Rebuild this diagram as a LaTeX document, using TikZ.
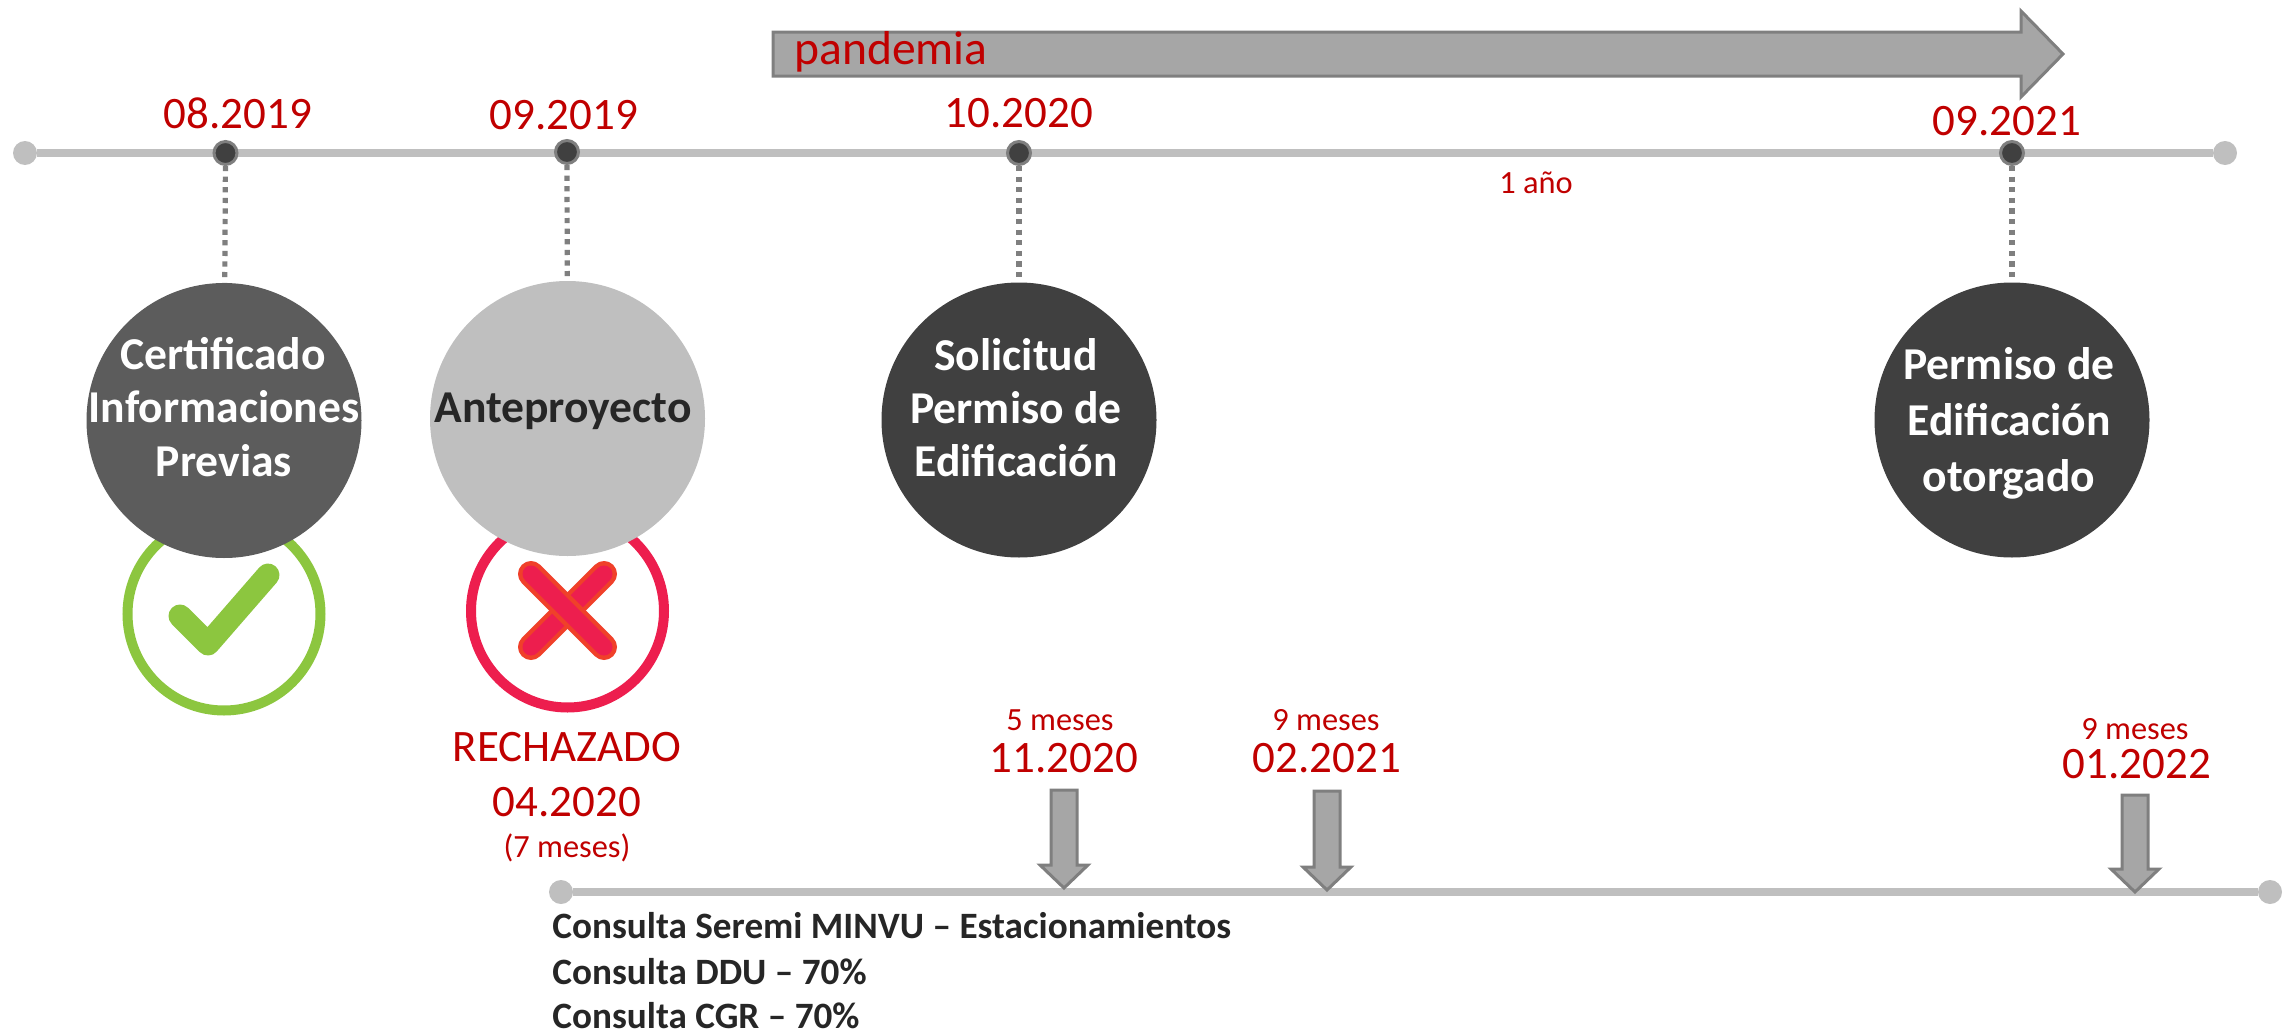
\documentclass[tikz,border=0pt]{standalone}
\usepackage{fontspec}
\setmainfont{Carlito}
\definecolor{linegray}{HTML}{BFBFBF}
\definecolor{arrowfill}{HTML}{A6A6A6}
\definecolor{arrowedge}{HTML}{7F7F7F}
\definecolor{dotfill}{HTML}{404040}
\definecolor{datered}{HTML}{C00000}
\definecolor{midgray}{HTML}{5C5C5C}
\definecolor{inkdark}{HTML}{262626}
\definecolor{okgreen}{HTML}{8CC63F}
\definecolor{noring}{HTML}{ED1E4E}
\definecolor{noorange}{HTML}{F0402A}
\newcommand{\downarrowshape}[3]{% x, top, tip
  \draw[arrowstyle] (#1-13,#2) -- (#1+13,#2) -- (#1+13,#3-25) -- (#1+24,#3-25) -- (#1,#3-2) -- (#1-24,#3-25) -- (#1-13,#3-25) -- cycle;}
\tikzset{
  x=0.5pt,y=-0.5pt,
  timeline/.style={draw=linegray,line width=4pt},
  enddot/.style={circle,fill=linegray,inner sep=0pt,minimum size=12pt},
  eventdot/.style={circle,fill=dotfill,draw=arrowedge,line width=1.5pt,inner sep=0pt,minimum size=11.5pt},
  leader/.style={draw=arrowedge,line width=2.6pt,dash pattern=on 2.6pt off 2.7pt},
  bigcircle/.style={circle,inner sep=0pt,minimum size=137.5pt},
  arrowstyle/.style={fill=arrowfill,draw=arrowedge,line width=1.5pt,line join=miter},
  date/.style={anchor=base,inner sep=0pt,text=datered,font=\fontsize{22.5pt}{27pt}\selectfont},
  note/.style={anchor=base,inner sep=0pt,text=datered,font=\fontsize{16.2pt}{19pt}\selectfont},
  stage/.style={anchor=base,inner sep=0pt,font=\fontsize{22.8pt}{27pt}\selectfont\bfseries},
  query/.style={anchor=base west,inner sep=0pt,text=inkdark,font=\fontsize{18.6pt}{22pt}\selectfont\bfseries},
  ring/.style={circle,inner sep=0pt,line width=5pt,minimum size=96.5pt,fill=white},
}
\begin{document}
\begin{tikzpicture}
\useasboundingbox (0,0) rectangle (2293,1033);
% pandemia arrow
\draw[arrowstyle] (773,32) -- (2021,32) -- (2021,11) -- (2063,54) -- (2021,97) -- (2021,76) -- (773,76) -- cycle;
\node[date,anchor=base west,font=\fontsize{23.8pt}{27pt}\selectfont] (pandemia) at (794,64) {pandemia};
% main timeline
\node[enddot] (startA) at (25,153) {};
\node[enddot] (endA) at (2225,153) {};
\draw[timeline] (startA) -- (endA);
\node[eventdot] (d1) at (225.5,153) {};
\node[eventdot] (d2) at (567,152) {};
\node[eventdot] (d3) at (1019,153) {};
\node[eventdot] (d4) at (2012,153) {};
% status icons (below the circles)
\node[ring,draw=okgreen] (okring) at (224,614) {};
\draw[okgreen,line width=11.5pt,line cap=round,line join=round] (180,616) -- (208,644) -- (268,575);
\node[ring,draw=noring] (noringnode) at (567.5,611) {};
\draw[noorange,line width=13pt,line cap=round] (604,574) -- (531,647);
\draw[noring,line width=8.5pt,line cap=round] (604,574) -- (531,647);
\draw[noorange,line width=13pt,line cap=round] (531,574) -- (604,647);
\draw[noring,line width=8.5pt,line cap=round] (531,574) -- (604,647);
% big circles
\node[bigcircle,fill=midgray] (c1) at (224,420.5) {};
\node[bigcircle,fill=linegray] (c2) at (567.5,418.5) {};
\node[bigcircle,fill=dotfill] (c3) at (1019,420) {};
\node[bigcircle,fill=dotfill] (c4) at (2012,420) {};
\draw[leader] (d1) -- (c1);
\draw[leader] (d2) -- (c2);
\draw[leader] (d3) -- (c3);
\draw[leader] (d4) -- (c4);
% circle texts
\node[stage,text=white] (t1a) at (223,369) {Certificado};
\node[stage,text=white] (t1b) at (224,422) {Informaciones};
\node[stage,text=white] (t1c) at (224,476) {Previas};
\node[stage,text=inkdark] (t2a) at (563,422) {Anteproyecto};
\node[stage,text=white] (t3a) at (1016,370) {Solicitud};
\node[stage,text=white] (t3b) at (1016,423) {Permiso de};
\node[stage,text=white] (t3c) at (1016,476) {Edificación};
\node[stage,text=white] (t4a) at (2009,379) {Permiso de};
\node[stage,text=white] (t4b) at (2009,435) {Edificación};
\node[stage,text=white] (t4c) at (2009,491) {otorgado};
% dates
\node[date] (l1) at (238,128) {08.2019};
\node[date] (l2) at (564,129) {09.2019};
\node[date] (l3) at (1019,127) {10.2020};
\node[date] (l4) at (2007,135) {09.2021};
\node[note] (anio) at (1536,193) {1 año};
\node[date] (rech) at (567,761) {RECHAZADO};
\node[date] (rechd) at (567,816) {04.2020};
\node[note] (rechm) at (567,857) {(7 meses)};
% lower timeline
\node[enddot] (startB) at (561,892) {};
\node[enddot] (endB) at (2270,892) {};
\draw[timeline] (startB) -- (endB);
\downarrowshape{1064}{790}{890}
\downarrowshape{1327}{791}{892}
\downarrowshape{2135}{795}{894}
\node[note] (m1) at (1060,730) {5 meses};
\node[date] (e1) at (1064,772) {11.2020};
\node[note] (m2) at (1326,730) {9 meses};
\node[date] (e2) at (1327,772) {02.2021};
\node[note] (m3) at (2135,739) {9 meses};
\node[date] (e3) at (2137,778) {01.2022};
\node[query] (q1) at (552,938) {Consulta Seremi MINVU – Estacionamientos};
\node[query] (q2) at (552,984) {Consulta DDU – 70\%};
\node[query] (q3) at (552,1028) {Consulta CGR – 70\%};
\end{tikzpicture}
\end{document}
